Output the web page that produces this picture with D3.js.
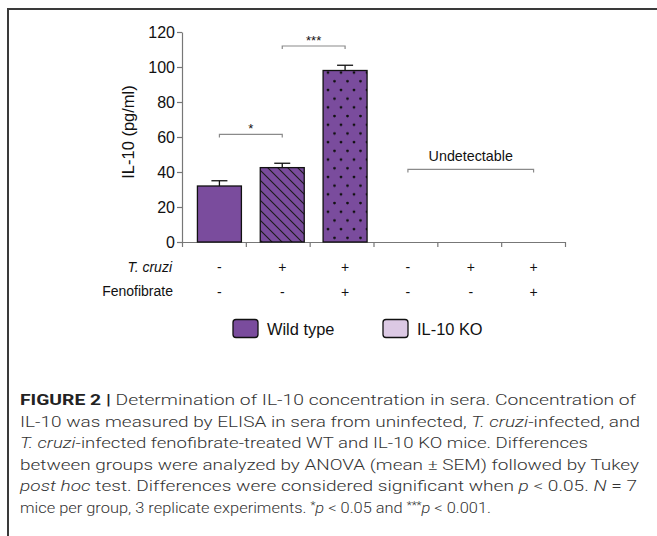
<!DOCTYPE html>
<html>
<head>
<meta charset="utf-8">
<script src="https://cdn.jsdelivr.net/npm/d3@7"></script>
<style>
  body { margin: 0; background: #fff; }
  text { font-family: "Liberation Sans", Arial, sans-serif; }
</style>
</head>
<body>
<svg id="chart" width="657" height="536"></svg>
<script>
// ---- data ------------------------------------------------------------------
var groups   = ["WT", "WT Tc", "WT Tc+Feno", "KO", "KO Tc", "KO Tc+Feno"];
var means    = [32, 42.5, 98, null, null, null];      // IL-10 pg/ml
var sems     = [3, 2.5, 3, null, null, null];
var fills    = ["solid", "hatch", "dots", null, null, null];
var tcruzi   = ["-", "+", "+", "-", "+", "+"];
var feno     = ["-", "-", "+", "-", "-", "+"];
var yTicks   = [0, 20, 40, 60, 80, 100, 120];
var legendLabels = ["Wild type", "IL-10 KO"];
var legendColors = ["#7a4c9d", "#dcc9e4"];
// significance brackets: from group, to group, level, label
var sigs = [
  {from: 0, to: 1, y: 61.5, label: "*"},
  {from: 1, to: 2, y: 112, label: "***"}
];
var undetect = {from: 3, to: 5, y: 41.5, label: "Undetectable"};
var captionLines = [
  [["FIGURE 2 | ", "b"], ["Determination of IL-10 concentration in sera. Concentration of", ""]],
  [["IL-10 was measured by ELISA in sera from uninfected, ", ""], ["T. cruzi", "i"], ["-infected, and", ""]],
  [["T. cruzi", "i"], ["-infected fenofibrate-treated WT and IL-10 KO mice. Differences", ""]],
  [["between groups were analyzed by ANOVA (mean \u00b1 SEM) followed by Tukey", ""]],
  [["post hoc", "i"], [" test. Differences were considered significant when ", ""], ["p", "i"], [" < 0.05. ", ""], ["N", "i"], [" = 7", ""]],
  [["mice per group, 3 replicate experiments. ", ""], ["*", "s"], ["p", "i"], [" < 0.05 and ", ""], ["***", "s"], ["p", "i"], [" < 0.001.", ""]]
];
var captionEnds = [636, 640, 588, 639, 637, 491];

var purple = legendColors[0];

var svg = d3.select("#chart");

// frame of the figure panel
svg.append("rect")
  .attr("x", 8).attr("y", 9)
  .attr("width", 700).attr("height", 600)
  .attr("fill", "none")
  .attr("stroke", "#3a3a3a")
  .attr("stroke-width", 2);

// patterns
var defs = svg.append("defs");
var hatch = defs.append("pattern")
  .attr("id", "hatch")
  .attr("patternUnits", "userSpaceOnUse")
  .attr("width", 10).attr("height", 10);
hatch.append("rect").attr("width", 10).attr("height", 10).attr("fill", purple);
hatch.append("path")
  .attr("d", "M-2,-2 L12,12 M-2,8 L2,12 M8,-2 L12,2")
  .attr("stroke", "#1a1a1a").attr("stroke-width", 1.1);

var dots = defs.append("pattern")
  .attr("id", "dots")
  .attr("patternUnits", "userSpaceOnUse")
  .attr("width", 13).attr("height", 17.4);
dots.append("rect").attr("width", 13).attr("height", 17.4).attr("fill", purple);
dots.append("circle").attr("cx", 3).attr("cy", 3).attr("r", 1.4).attr("fill", "#111");
dots.append("circle").attr("cx", 9.5).attr("cy", 11.7).attr("r", 1.4).attr("fill", "#111");

// scales
var x = d3.scaleBand()
  .domain(groups)
  .range([188, 565])
  .paddingInner(0.3)
  .paddingOuter(0.15);
var xEdge = d3.scaleLinear().domain([0, groups.length]).range([182, 565]);
var y = d3.scaleLinear().domain([0, 120]).range([242, 32]);

function cx(i) { return x(groups[i]) + x.bandwidth() / 2; }

// axes
var yAxis = svg.append("g")
  .attr("transform", "translate(182,0)")
  .call(d3.axisLeft(y).tickValues(yTicks).tickSize(5).tickSizeOuter(0).tickPadding(2));
yAxis.selectAll("text").style("font-size", "16px").attr("fill", "#111");

var xAxis = svg.append("g")
  .attr("transform", "translate(0,242)")
  .call(d3.axisBottom(xEdge).ticks(6).tickFormat("").tickSize(5).tickSizeOuter(0));

svg.selectAll(".domain, .tick line").attr("stroke", "#777").attr("stroke-width", 1.2);

// y label
svg.append("text")
  .attr("transform", "translate(134,132) rotate(-90)")
  .attr("text-anchor", "middle")
  .style("font-size", "16.5px")
  .attr("fill", "#111")
  .text("IL-10 (pg/ml)");

// bars
var barData = groups.map(function(g, i) {
  return {g: g, v: means[i], e: sems[i], f: fills[i]};
}).filter(function(d) { return d.v != null; });

svg.selectAll("rect.bar")
  .data(barData)
  .enter()
  .append("rect")
    .attr("class", "bar")
    .attr("x", function(d) { return x(d.g); })
    .attr("y", function(d) { return y(d.v); })
    .attr("width", x.bandwidth())
    .attr("height", function(d) { return y(0) - y(d.v); })
    .attr("fill", function(d) { return d.f == "solid" ? purple : "url(#" + d.f + ")"; })
    .attr("stroke", "#111")
    .attr("stroke-width", 1.3);

// error bars (upper half only, like the original)
var errs = svg.selectAll("g.err")
  .data(barData)
  .enter()
  .append("g")
    .attr("class", "err");
errs.append("line")
  .attr("x1", function(d) { return x(d.g) + x.bandwidth() / 2; })
  .attr("x2", function(d) { return x(d.g) + x.bandwidth() / 2; })
  .attr("y1", function(d) { return y(d.v); })
  .attr("y2", function(d) { return y(d.v + d.e); })
  .attr("stroke", "#111").attr("stroke-width", 1.3);
errs.append("line")
  .attr("x1", function(d) { return x(d.g) + x.bandwidth() / 2 - 8; })
  .attr("x2", function(d) { return x(d.g) + x.bandwidth() / 2 + 8; })
  .attr("y1", function(d) { return y(d.v + d.e); })
  .attr("y2", function(d) { return y(d.v + d.e); })
  .attr("stroke", "#111").attr("stroke-width", 1.3);

// brackets
function bracket(b, size) {
  var x1 = cx(b.from), x2 = cx(b.to), yy = y(b.y);
  svg.append("path")
    .attr("d", "M" + x1 + "," + (yy + 3) + "V" + yy + "H" + x2 + "V" + (yy + 3))
    .attr("fill", "none")
    .attr("stroke", "#8a8a8a")
    .attr("stroke-width", 1.2);
  svg.append("text")
    .attr("x", (x1 + x2) / 2)
    .attr("y", yy - (size > 14 ? 8 : 1))
    .attr("text-anchor", "middle")
    .style("font-size", size + "px")
    .attr("fill", "#111")
    .text(b.label);
}
sigs.forEach(function(s) { bracket(s, 13); });
bracket(undetect, 14.3);

// +/- rows
svg.append("text")
  .attr("x", 172).attr("y", 272)
  .attr("text-anchor", "end")
  .style("font-size", "14px").style("font-style", "italic")
  .attr("fill", "#111")
  .text("T. cruzi");
svg.append("text")
  .attr("x", 173).attr("y", 296)
  .attr("text-anchor", "end")
  .style("font-size", "14px")
  .attr("fill", "#111")
  .text("Fenofibrate");

svg.selectAll("text.tc")
  .data(tcruzi)
  .enter()
  .append("text")
    .attr("class", "tc")
    .attr("x", function(d, i) { return cx(i); })
    .attr("y", 272)
    .attr("text-anchor", "middle")
    .style("font-size", "14px")
    .attr("fill", "#111")
    .text(function(d) { return d; });
svg.selectAll("text.fe")
  .data(feno)
  .enter()
  .append("text")
    .attr("class", "fe")
    .attr("x", function(d, i) { return cx(i); })
    .attr("y", 297)
    .attr("text-anchor", "middle")
    .style("font-size", "14px")
    .attr("fill", "#111")
    .text(function(d) { return d; });

// legend
var legX = [233, 383];
legendLabels.forEach(function(l, i) {
  svg.append("rect")
    .attr("x", legX[i]).attr("y", 319.5)
    .attr("width", 25).attr("height", 18)
    .attr("rx", 3)
    .attr("fill", legendColors[i])
    .attr("stroke", "#111").attr("stroke-width", 1.3);
  svg.append("text")
    .attr("x", legX[i] + 34).attr("y", 335)
    .style("font-size", "16.4px")
    .attr("fill", "#111")
    .text(l);
});

// caption
var cap = svg.append("g");
captionLines.forEach(function(line, i) {
  var t = cap.append("text")
    .attr("x", 20)
    .attr("y", 405 + i * 21.6)
    .attr("textLength", captionEnds[i] - 20)
    .attr("lengthAdjust", "spacingAndGlyphs")
    .style("font-family", "Roboto, 'Liberation Sans', sans-serif")
    .style("font-weight", 300)
    .style("font-size", "15.5px")
    .attr("fill", "#333");
  line.forEach(function(seg) {
    var ts = t.append("tspan").text(seg[0]);
    if (seg[1] == "b") ts.style("font-weight", 700).attr("fill", "#222");
    if (seg[1] == "i") ts.style("font-style", "italic");
    if (seg[1] == "s") ts.style("font-size", "11px").attr("baseline-shift", "35%");
  });
});
</script>
</body>
</html>
